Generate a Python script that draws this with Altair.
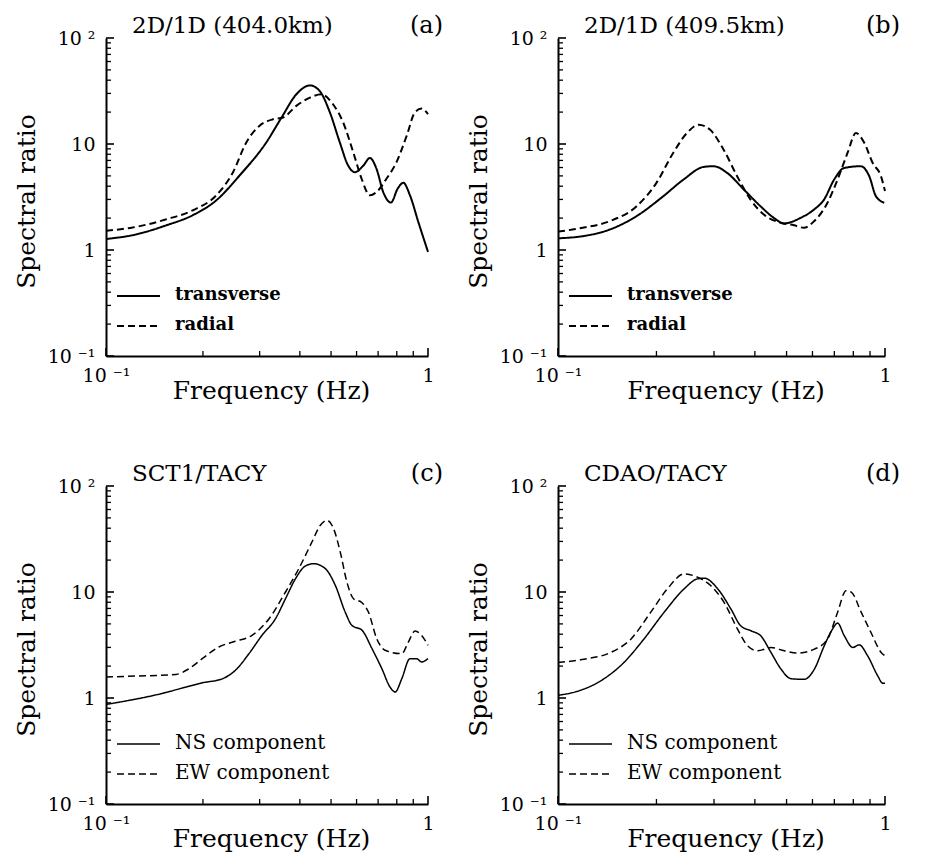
import altair as alt
import pandas as pd

FONT = "DejaVu Serif"

# ---------------- data ----------------
# (a) 2D/1D (404.0km)
a_tr_f = [0.1, 0.121, 0.154, 0.186, 0.22, 0.26, 0.315, 0.351, 0.39, 0.43, 0.461, 0.496, 0.532, 0.565, 0.593, 0.63, 0.66, 0.692, 0.726, 0.767, 0.805, 0.838, 0.879, 0.933, 1.0]
a_tr_v = [1.27, 1.38, 1.71, 2.13, 2.94, 5.05, 10.4, 17.8, 29.4, 35.7, 31.6, 19.8, 10.4, 6.26, 5.42, 6.26, 7.39, 5.83, 3.52, 2.80, 3.79, 4.31, 3.28, 1.84, 0.96]
a_ra_f = [0.1, 0.121, 0.154, 0.186, 0.22, 0.248, 0.273, 0.30, 0.33, 0.355, 0.39, 0.43, 0.467, 0.507, 0.545, 0.586, 0.622, 0.66, 0.692, 0.743, 0.798, 0.859, 0.91, 0.955, 1.0]
a_ra_v = [1.52, 1.63, 1.95, 2.37, 3.28, 5.42, 10.4, 14.9, 17.1, 17.8, 22.9, 27.4, 29.4, 23.7, 16.0, 8.35, 4.70, 3.28, 3.52, 4.70, 6.73, 12.0, 19.8, 21.6, 19.1]

# (b) 2D/1D (409.5km)
b_tr_f = [0.1, 0.119, 0.144, 0.174, 0.21, 0.242, 0.279, 0.299, 0.329, 0.37, 0.416, 0.457, 0.491, 0.552, 0.607, 0.651, 0.699, 0.75, 0.844, 0.895, 0.938, 0.995]
b_tr_v = [1.29, 1.35, 1.56, 2.09, 3.22, 4.62, 6.08, 6.17, 5.34, 3.72, 2.59, 2.01, 1.78, 2.01, 2.41, 2.99, 4.62, 5.94, 6.17, 4.97, 3.22, 2.79]
b_ra_f = [0.1, 0.119, 0.144, 0.174, 0.2, 0.225, 0.248, 0.269, 0.292, 0.321, 0.353, 0.388, 0.426, 0.48, 0.527, 0.565, 0.607, 0.667, 0.716, 0.768, 0.815, 0.865, 0.917, 0.972, 1.0]
b_ra_v = [1.49, 1.62, 1.87, 2.59, 4.30, 8.23, 12.7, 15.2, 13.6, 8.84, 4.97, 2.99, 2.16, 1.81, 1.71, 1.62, 1.87, 2.79, 4.62, 8.23, 12.7, 10.2, 6.62, 4.97, 3.6]

# (c) SCT1/TACY
c_ns_f = [0.1, 0.118, 0.143, 0.169, 0.199, 0.23, 0.252, 0.278, 0.305, 0.336, 0.361, 0.388, 0.416, 0.441, 0.48, 0.515, 0.553, 0.58, 0.624, 0.67, 0.719, 0.762, 0.791, 0.829, 0.879, 0.922, 0.955, 1.0]
c_ns_v = [0.87, 0.95, 1.07, 1.22, 1.39, 1.52, 1.82, 2.62, 3.90, 5.60, 8.65, 13.4, 17.6, 18.5, 16.6, 11.6, 6.48, 4.85, 4.35, 2.92, 1.89, 1.27, 1.14, 1.52, 2.35, 2.35, 2.19, 2.35]
c_ew_f = [0.1, 0.124, 0.165, 0.181, 0.199, 0.224, 0.252, 0.284, 0.321, 0.361, 0.397, 0.436, 0.463, 0.486, 0.509, 0.534, 0.56, 0.587, 0.624, 0.653, 0.693, 0.736, 0.829, 0.869, 0.912, 0.955, 1.0]
c_ew_v = [1.58, 1.61, 1.67, 1.89, 2.35, 3.03, 3.43, 3.90, 5.60, 10.0, 16.6, 29.6, 42.6, 47.4, 39.6, 23.8, 12.4, 8.65, 7.93, 6.48, 3.63, 2.82, 2.62, 3.37, 4.29, 3.90, 3.14]

# (d) CDAO/TACY
d_ns_f = [0.1, 0.115, 0.135, 0.159, 0.183, 0.211, 0.243, 0.267, 0.28, 0.308, 0.338, 0.362, 0.389, 0.417, 0.448, 0.481, 0.516, 0.566, 0.608, 0.652, 0.691, 0.716, 0.751, 0.797, 0.834, 0.885, 0.95, 0.984, 1.0]
d_ns_v = [1.06, 1.16, 1.45, 2.16, 3.59, 6.42, 10.7, 13.3, 13.5, 10.7, 6.90, 4.80, 4.31, 3.86, 2.69, 1.87, 1.52, 1.50, 1.87, 3.11, 4.47, 5.09, 3.86, 3.0, 3.17, 2.50, 1.62, 1.38, 1.38]
d_ew_f = [0.1, 0.12, 0.145, 0.167, 0.192, 0.216, 0.243, 0.267, 0.293, 0.322, 0.354, 0.38, 0.408, 0.448, 0.492, 0.541, 0.608, 0.667, 0.716, 0.76, 0.79, 0.846, 0.906, 0.973, 1.0]
d_ew_v = [2.16, 2.32, 2.69, 3.59, 6.42, 10.7, 14.8, 13.8, 11.5, 7.98, 4.47, 3.11, 2.79, 2.99, 2.79, 2.65, 2.89, 3.59, 6.42, 10.3, 9.93, 6.42, 4.15, 2.69, 2.5]

# axis tick positions
x_major = [0.1, 1.0]
x_minor = [0.2, 0.3, 0.4, 0.5, 0.6, 0.7, 0.8, 0.9]
y_major = [0.1, 1.0, 10.0, 100.0]
y_minor = [0.2, 0.3, 0.4, 0.5, 0.6, 0.7, 0.8, 0.9, 2, 3, 4, 5, 6, 7, 8, 9, 20, 30, 40, 50, 60, 70, 80, 90]

names_ab = ["transverse", "radial"]
names_cd = ["NS component", "EW component"]

H = 318


def panel(title, tag, names, f1, v1, f2, v2, w, bold, lw, lfs):
    df = pd.DataFrame({
        "f": f1 + f2,
        "v": v1 + v2,
        "s": [names[0]] * len(f1) + [names[1]] * len(f2),
    })
    xs = alt.Scale(type="log", domain=[0.1, 1])
    ys = alt.Scale(type="log", domain=[0.1, 100])
    xax = alt.Axis(
        values=x_major, ticks=False, grid=False,
        labelExpr="datum.value < 0.5 ? '10 \u207b\u00b9' : '1'",
        labelPadding=10, labelFlush=False,
        title="Frequency (Hz)", titleX=w / 2 + 4, titleY=34,
        titleBaseline="middle", titleAlign="center",
    )
    yax = alt.Axis(
        values=y_major, ticks=False, grid=False,
        labelExpr="datum.value > 50 ? '10 \u00b2' : datum.value > 5 ? '10\u2002' : datum.value > 0.5 ? '1\u2005' : '10 \u207b\u00b9'",
        labelPadding=11, labelFlush=False,
        title="Spectral ratio", titleX=-80, titleY=163, titleAngle=270,
        titleBaseline="middle", titleAlign="center",
    )
    lines = alt.Chart(df).mark_line(color="black", strokeWidth=lw, interpolate="monotone").encode(
        x=alt.X("f:Q", scale=xs, axis=xax),
        y=alt.Y("v:Q", scale=ys, axis=yax),
        strokeDash=alt.StrokeDash("s:N", scale=alt.Scale(domain=names, range=[[1, 0], [7, 4]]), legend=None),
        detail="s:N",
    )
    ytm = alt.Chart(pd.DataFrame({"v": y_major})).mark_rule(color="black", strokeWidth=1.6).encode(
        y=alt.Y("v:Q", scale=ys, axis=yax), x=alt.value(0), x2=alt.value(8))
    ytn = alt.Chart(pd.DataFrame({"v": y_minor})).mark_rule(color="black", strokeWidth=1.3).encode(
        y=alt.Y("v:Q", scale=ys, axis=yax), x=alt.value(0), x2=alt.value(5))
    xtm = alt.Chart(pd.DataFrame({"f": x_major})).mark_rule(color="black", strokeWidth=1.6).encode(
        x=alt.X("f:Q", scale=xs, axis=xax), y=alt.value(H), y2=alt.value(H - 8))
    xtn = alt.Chart(pd.DataFrame({"f": x_minor})).mark_rule(color="black", strokeWidth=1.3).encode(
        x=alt.X("f:Q", scale=xs, axis=xax), y=alt.value(H), y2=alt.value(H - 5))

    # legend (inside, lower left)
    wt = "bold" if bold else "normal"
    lg1 = alt.Chart(pd.DataFrame({"s": [names[0]]})).mark_rule(color="black", strokeWidth=lw).encode(
        x=alt.value(11), x2=alt.value(54), y=alt.value(258))
    lg2 = alt.Chart(pd.DataFrame({"s": [names[1]]})).mark_rule(color="black", strokeWidth=lw, strokeDash=[7, 4]).encode(
        x=alt.value(11), x2=alt.value(54), y=alt.value(288))
    lt1 = alt.Chart(pd.DataFrame({"s": [names[0]]})).mark_text(
        align="left", baseline="middle", font=FONT, fontSize=lfs, fontWeight=wt, color="black").encode(
        text="s:N", x=alt.value(69), y=alt.value(257))
    lt2 = alt.Chart(pd.DataFrame({"s": [names[1]]})).mark_text(
        align="left", baseline="middle", font=FONT, fontSize=lfs, fontWeight=wt, color="black").encode(
        text="s:N", x=alt.value(69), y=alt.value(287))

    tt = alt.Chart(pd.DataFrame({"s": [title]})).mark_text(
        align="left", baseline="middle", font=FONT, fontSize=23, color="black").encode(
        text="s:N", x=alt.value(26), y=alt.value(-12))
    tg = alt.Chart(pd.DataFrame({"s": [tag]})).mark_text(
        align="right", baseline="middle", font=FONT, fontSize=24, color="black").encode(
        text="s:N", x=alt.value(w + 15), y=alt.value(-12))

    return alt.layer(lines, ytm, ytn, xtm, xtn, lg1, lg2, lt1, lt2, tt, tg).properties(width=w, height=H)


pa = panel("2D/1D (404.0km)", "(a)", names_ab, a_tr_f, a_tr_v, a_ra_f, a_ra_v, 322, True, 2.0, 18)
pb = panel("2D/1D (409.5km)", "(b)", names_ab, b_tr_f, b_tr_v, b_ra_f, b_ra_v, 327, True, 2.0, 18)
pc = panel("SCT1/TACY", "(c)", names_cd, c_ns_f, c_ns_v, c_ew_f, c_ew_v, 322, False, 1.5, 20)
pd_ = panel("CDAO/TACY", "(d)", names_cd, d_ns_f, d_ns_v, d_ew_f, d_ew_v, 327, False, 1.5, 20)

chart = alt.ConcatChart(
    concat=[pa, pb, pc, pd_], columns=2, bounds="flush",
    spacing={"row": 130, "column": 130},
).properties(
    padding={"left": 14, "top": 14, "right": 10, "bottom": 10},
    background="white",
).configure_view(stroke=None).configure_axis(
    labelFont=FONT, titleFont=FONT, labelFontSize=19, titleFontSize=25,
    labelColor="black", titleColor="black", titleFontWeight="normal",
    domainColor="black", domainWidth=2,
).resolve_scale(strokeDash="independent")

chart.save("out.html", embed_options={"renderer": "svg", "actions": False})
